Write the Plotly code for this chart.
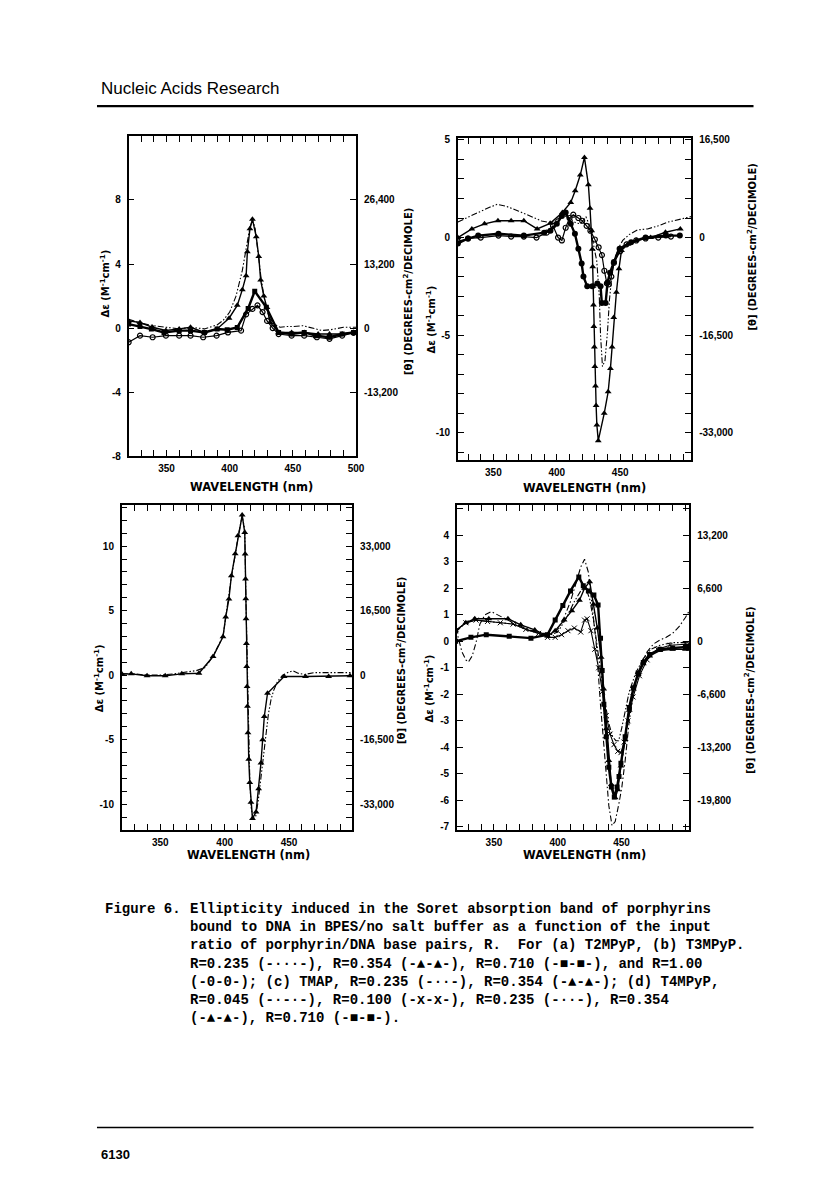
import math
import plotly.graph_objects as go

# ---------------- data ----------------
# (a) T2MPyP
a_wl_235 = [320, 325, 330, 340, 350, 360, 370, 380, 390, 395, 400, 405, 410, 413, 416, 418, 420, 422, 425, 428, 431, 435, 440, 445, 450, 458, 465, 473, 480, 490, 500]
a_de_235 = [0.55, 0.4, 0.3, 0.15, 0.05, -0.05, 0.05, -0.05, 0.2, 0.5, 1.0, 2.0, 3.6, 5.0, 6.3, 6.7, 6.3, 5.0, 3.0, 1.6, 0.7, 0.25, 0.05, 0.1, 0.1, 0.15, 0.0, -0.15, -0.1, 0.05, 0.05]
a_wl_354 = [320, 329, 339, 349.5, 360, 369, 380, 390, 399.5, 406, 410, 413, 414, 416, 418, 421, 423, 424.5, 427, 429.5, 432, 439, 449, 459, 470, 479, 489, 498]
a_de_354 = [0.45, 0.35, 0.05, -0.15, -0.05, 0.05, -0.27, -0.05, 0.62, 1.42, 2.4, 3.27, 4.77, 6.2, 6.8, 5.7, 4.47, 3.0, 2.0, 1.28, 0.35, -0.27, -0.27, -0.27, -0.37, -0.37, -0.37, -0.27]
a_wl_710 = [320, 329, 338, 348, 360, 369, 380, 390, 398, 406, 414.6, 419.8, 429, 438.7, 449, 459, 468, 479, 489, 498]
a_de_710 = [0.25, 0.1, -0.06, -0.27, -0.16, -0.16, -0.27, -0.06, -0.1, 0.04, 1.23, 2.3, 1.3, -0.27, -0.37, -0.27, -0.47, -0.57, -0.37, -0.27]
a_wl_100 = [320, 329, 339, 349.5, 360, 369, 379, 389.6, 398.6, 409, 413, 418, 422, 426, 429.6, 434, 438.7, 449, 459, 469, 479, 489, 498]
a_de_100 = [-0.88, -0.47, -0.57, -0.47, -0.47, -0.47, -0.57, -0.47, -0.27, -0.16, 0.86, 1.2, 1.42, 1.0, 0.45, 0.0, -0.37, -0.47, -0.47, -0.57, -0.67, -0.47, -0.3]

# (b) T3MPyP
b_wl_235 = [322, 330, 340, 347, 353, 360, 370, 380, 388, 396, 401, 405, 410, 415, 418.5, 423, 426, 429, 431.5, 433.5, 434.5, 436, 438, 440, 441.5, 443.5, 446, 449, 452, 457, 463.7, 471.5, 480, 487, 495, 506]
b_de_235 = [0.8, 1.05, 1.35, 1.55, 1.7, 1.6, 1.35, 1.05, 0.85, 0.75, 0.95, 1.15, 1.0, 0.75, 0.7, 1.05, 0.6, -0.3, -1.2, -3.0, -5.0, -6.6, -6.3, -4.8, -3.2, -1.9, -1.0, -0.5, -0.15, 0.15, 0.39, 0.44, 0.6, 0.78, 0.9, 1.07]
b_wl_354 = [322, 333, 343, 353.6, 364, 374, 384.5, 394.8, 404.4, 411, 414.5, 418.5, 421.8, 424.9, 426.2, 427.5, 428, 428.3, 428.6, 428.9, 429.2, 429.6, 430, 430.5, 431, 431.6, 432.7, 437.4, 440.5, 442.3, 443.6, 444.9, 447, 449, 451, 456, 462.6, 474, 485.7, 497.4]
b_de_354 = [0.0, 0.44, 0.7, 0.86, 0.86, 0.86, 0.44, 0.73, 1.28, 1.8, 2.4, 3.2, 4.1, 2.7, 1.5, 0.35, -0.6, -1.5, -2.5, -3.45, -4.55, -5.6, -6.6, -7.6, -8.6, -9.6, -10.4, -9.0, -7.9, -6.7, -5.6, -4.1, -2.8, -1.6, -0.66, -0.35, -0.15, 0.0, 0.27, 0.44]
b_wl_710 = [322, 330, 338, 354, 374, 390, 395, 400, 404, 407, 411, 414.3, 417, 419.6, 421, 424, 428, 432, 434.5, 435.5, 438.5, 440, 442, 445, 449.5, 458.6, 470, 486, 497]
b_de_710 = [-0.3, -0.05, 0.1, 0.19, 0.1, 0.25, 0.35, 0.7, 1.1, 1.28, 0.7, 0.19, -0.57, -1.33, -2.0, -2.5, -2.5, -2.35, -2.5, -3.35, -3.35, -2.3, -1.8, -1.25, -0.57, -0.24, 0.0, 0.1, 0.1]
b_wl_100 = [322, 330, 340, 354, 364, 374, 384, 392, 397, 401, 404, 407, 410, 413, 417, 420, 423.5, 426.5, 430, 433, 435.6, 437.5, 439.5, 441, 443, 445, 450, 455, 462.6, 470, 480, 490]
b_de_100 = [-0.2, -0.05, 0.0, 0.1, 0.05, 0.05, 0.0, 0.25, 0.6, 0.0, -0.15, 0.5, 1.0, 1.17, 1.0, 0.86, 0.6, 0.35, -0.1, -0.5, -0.9, -1.7, -2.35, -2.4, -2.0, -1.3, -0.7, -0.35, -0.15, -0.05, 0.0, 0.05]

# (c) TMAP
c_wl_235 = [320, 330, 340, 350, 360, 370, 378, 385, 391, 398.7, 400.8, 403.3, 405.2, 408.2, 410.3, 413.6, 415.6, 416.5, 417.5, 418.5, 419.5, 420.5, 422, 424, 426, 428, 430, 432, 434, 436, 438, 441, 445, 449, 453, 457, 462, 470, 480, 490, 499]
c_de_235 = [0.1, 0.1, 0.0, 0.0, 0.1, 0.25, 0.35, 0.6, 1.5, 3.0, 4.5, 5.9, 7.6, 9.3, 10.7, 12.3, 11.3, 6.0, 0.5, -4.0, -8.0, -10.2, -11.1, -11.0, -9.8, -8.1, -6.4, -4.6, -3.0, -1.9, -1.2, -0.5, 0.0, 0.2, 0.35, 0.15, 0.05, 0.2, 0.2, 0.2, 0.2]
c_wl_354 = [320, 327.4, 339.7, 353.8, 366.7, 380, 391, 398.7, 400.8, 403.3, 405.2, 408.2, 410.3, 413.6, 415.6, 415.9, 416.2, 416.4, 416.6, 416.9, 417.1, 417.4, 417.7, 418.1, 418.7, 419.5, 420.4, 421.6, 424.4, 426.4, 428.2, 429.5, 430.8, 433.3, 446.2, 462.8, 480.8, 497.4]
c_de_354 = [0.1, 0.1, -0.05, -0.05, 0.1, 0.15, 1.44, 2.98, 4.5, 5.9, 7.7, 9.4, 10.8, 12.4, 11.05, 9.38, 7.46, 5.92, 4.38, 2.46, 0.67, -0.87, -2.41, -4.46, -6.51, -8.31, -9.85, -11.1, -10.6, -8.8, -6.8, -5.0, -3.2, -1.4, -0.1, -0.1, -0.1, -0.05]

# (d) T4MPyP
d_wl_045 = [320, 322, 325, 328, 330, 333, 336, 339, 343, 348, 353, 358, 365, 372, 380, 388, 395, 400, 405, 410, 415, 418, 421, 424, 427, 430, 433.5, 437.4, 440, 442.5, 445, 448, 450.2, 452.8, 456, 460, 465, 470, 475, 480, 485, 490, 495, 500, 503]
d_de_045 = [0.5, 0.15, -0.4, -0.7, -0.78, -0.55, -0.05, 0.65, 1.0, 1.12, 1.0, 0.85, 0.7, 0.55, 0.4, 0.3, 0.3, 0.45, 0.9, 1.5, 2.3, 2.8, 3.1, 2.6, 1.3, 0.0, -2.4, -4.9, -6.2, -6.95, -6.8, -6.1, -5.5, -4.5, -3.0, -1.8, -0.9, -0.4, -0.1, 0.05, 0.15, 0.3, 0.55, 0.9, 1.15]
d_wl_100 = [320, 328, 336, 345, 355, 365, 375, 385, 392, 398, 403, 408, 413, 418, 421, 423, 426, 429, 432, 435, 438, 441, 444, 447, 449.5, 452, 455, 459, 464, 470, 478, 488, 500, 503]
d_de_100 = [0.4, 0.7, 0.8, 0.75, 0.7, 0.65, 0.45, 0.3, 0.15, 0.15, 0.25, 0.4, 0.5, 0.35, 0.8, 0.85, 0.4, -0.3, -1.0, -1.9, -2.8, -3.5, -3.9, -4.15, -4.2, -3.8, -3.0, -2.1, -1.3, -0.7, -0.3, -0.15, -0.1, -0.1]
d_wl_235 = [320, 328, 336, 345, 355, 365, 375, 385, 392, 400, 407, 413, 418, 422, 425, 428, 431, 434, 437, 440, 443, 445.5, 447.7, 450, 453, 456, 461, 467, 473, 480, 490, 500, 503]
d_de_235 = [0.35, 0.7, 0.8, 0.75, 0.7, 0.65, 0.45, 0.3, 0.2, 0.35, 0.9, 1.5, 1.9, 2.0, 1.6, 0.8, -0.2, -1.2, -2.3, -3.1, -3.6, -3.75, -3.75, -3.3, -2.6, -1.9, -1.2, -0.65, -0.3, -0.15, -0.05, -0.05, -0.05]
d_wl_354 = [320, 328, 335, 346, 361, 371, 382, 392, 398, 405, 411, 417, 421, 425, 428, 431, 434, 436, 438, 440, 442, 445, 447, 449.5, 452.8, 456, 459.3, 463, 467, 472, 480, 490, 500, 503]
d_de_354 = [0.4, 0.7, 0.85, 0.85, 0.85, 0.62, 0.43, 0.2, 0.4, 0.8, 1.15, 1.55, 2.0, 2.25, 1.4, 0.5, -0.6, -1.8, -3.3, -4.5, -5.4, -5.9, -5.6, -4.7, -3.7, -2.6, -1.8, -1.25, -0.85, -0.55, -0.35, -0.3, -0.3, -0.3]
d_wl_710 = [320, 332, 344, 362, 379, 392, 398, 404, 410, 416.5, 420, 424, 428.3, 431.6, 433.5, 434.8, 436.1, 438, 440, 442, 444.3, 446.5, 448, 449.5, 452.8, 456, 459.3, 463, 467, 472, 480, 490, 500, 503]
d_de_710 = [0.0, 0.15, 0.25, 0.19, 0.12, 0.25, 0.8, 1.35, 1.9, 2.43, 2.1, 1.9, 1.75, 1.37, 0.12, -1.1, -2.37, -3.6, -4.75, -5.5, -5.87, -5.5, -5.1, -4.6, -3.6, -2.5, -1.75, -1.2, -0.8, -0.5, -0.3, -0.25, -0.2, -0.2]

# tick labels
a_x_labels = [350, 400, 450, 500]
bcd_x_labels = [350, 400, 450]
a_y_labels = [-8, -4, 0, 4, 8]
b_y_labels = [5, 0, -5, -10]
c_y_labels = [10, 5, 0, -5, -10]
d_y_labels = [4, 3, 2, 1, 0, -1, -2, -3, -4, -5, -6, -7]
a_theta_labels = [26400, 13200, 0, -13200]
b_theta_labels = [16500, 0, -16500, -33000]
c_theta_labels = [33000, 16500, 0, -16500, -33000]
d_theta_labels = [13200, 6600, 0, -6600, -13200, -19800]
THETA_PER_DE = 3300

caption_lines = [
    "Ellipticity induced in the Soret absorption band of porphyrins",
    "bound to DNA in BPES/no salt buffer as a function of the input",
    "ratio of porphyrin/DNA base pairs, R.  For (a) T2MPyP, (b) T3MPyP.",
    "R=0.235 (-\u00b7\u00b7\u00b7-), R=0.354 (-\u25b2-\u25b2-), R=0.710 (-\u25a0-\u25a0-), and R=1.00",
    "(-0-0-); (c) TMAP, R=0.235 (-\u00b7\u00b7-), R=0.354 (-\u25b2-\u25b2-); (d) T4MPyP,",
    "R=0.045 (-\u00b7-\u00b7-), R=0.100 (-x-x-), R=0.235 (-\u00b7\u00b7-), R=0.354",
    "(-\u25b2-\u25b2-), R=0.710 (-\u25a0-\u25a0-).",
]

# ---------------- page geometry (page pixels) ----------------
W, H, OFF = 800, 1184, 8   # body margin of the html page


def fx(x):
    return (x - OFF) / W


def fy(y):
    return 1 - (y - OFF) / H


TICKFONT = dict(family="Liberation Sans", size=10, color="black", weight="bold")
TITLEFONT = dict(family="DejaVu Sans", size=10, color="black", weight="bold")
XT = dict(family="DejaVu Sans", size=11.5, color="black", weight="bold")
DASH2 = "6px,2px,1.5px,2px,1.5px,2px"
DASH1 = "6px,2.5px,1.5px,2.5px"
TICKSTYLE = dict(ticks="inside", ticklen=6, tickwidth=1.2, tickcolor="black")

panels = [
    # box (x0, x1, y0, y1) in page px, x range, y range, y tick step
    dict(box=(130, 360, 133, 456), xr=[320, 500], yr=[-8, 12], ystep=4,
         xl=a_x_labels, yl=a_y_labels, tl=a_theta_labels),
    dict(box=(463, 699, 135, 460), xr=[322, 506], yr=[-11.4, 5.1], ystep=1,
         xl=bcd_x_labels, yl=b_y_labels, tl=b_theta_labels),
    dict(box=(123, 356, 505, 833), xr=[320, 499], yr=[-12, 13.2], ystep=1,
         xl=bcd_x_labels, yl=c_y_labels, tl=c_theta_labels),
    dict(box=(462, 697, 505, 833), xr=[321, 503], yr=[-7.12, 5.15], ystep=1,
         xl=bcd_x_labels, yl=d_y_labels, tl=d_theta_labels),
]

fig = go.Figure()
layout = {}
for i, p in enumerate(panels, start=1):
    x0, x1, y0, y1 = p["box"]
    sfx = "" if i == 1 else str(i)
    xt = list(range(330, int(p["xr"][1]) + 1, 10))
    ylo, yhi = p["yr"]
    yt = [v for v in range(math.ceil(ylo), math.floor(yhi) + 1) if v % p["ystep"] == 0]
    layout["xaxis" + sfx] = dict(
        domain=[fx(x0), fx(x1)], range=p["xr"], anchor="y" + sfx,
        tickvals=p["xl"], ticktext=[str(v) for v in p["xl"]],
        minor=dict(tickvals=[v for v in xt if v not in p["xl"]], **TICKSTYLE),
        ticklabelstandoff=2, **TICKSTYLE,
        showline=True, linecolor="black", linewidth=1.5, mirror="ticks",
        showgrid=False, zeroline=False, tickfont=TICKFONT, fixedrange=True)
    layout["yaxis" + sfx] = dict(
        domain=[fy(y1), fy(y0)], range=p["yr"], anchor="x" + sfx,
        tickvals=p["yl"], ticktext=[str(v) for v in p["yl"]],
        minor=dict(tickvals=[v for v in yt if v not in p["yl"]], **TICKSTYLE),
        ticklabelstandoff=4, **TICKSTYLE,
        showline=True, linecolor="black", linewidth=1.5, mirror="ticks",
        showgrid=False, zeroline=False, tickfont=TICKFONT, fixedrange=True)
    layout["yaxis" + str(i + 4)] = dict(
        overlaying="y" + sfx, side="right", anchor="x" + sfx,
        range=[ylo * THETA_PER_DE, yhi * THETA_PER_DE],
        tickvals=p["tl"], ticktext=[f"{v:,}" for v in p["tl"]],
        ticks="", ticklabelstandoff=7, showline=False, showgrid=False,
        zeroline=False, tickfont=TICKFONT, fixedrange=True)
    # empty trace so that the right-hand [theta] axis is drawn
    fig.add_trace(go.Scatter(x=[None], y=[None], xaxis="x" + sfx,
                             yaxis="y" + str(i + 4), mode="lines",
                             hoverinfo="skip"))


def add(wl, de, panel, kind):
    sfx = "" if panel == 1 else str(panel)
    style = dict(mode="lines", line=dict(color="black", width=1.1))
    if kind == "dashdotdot":
        style["line"]["dash"] = DASH2
    elif kind == "dashdot":
        style["line"]["dash"] = DASH1
    elif kind == "tri":
        style = dict(mode="lines+markers", line=dict(color="black", width=1.4),
                     marker=dict(symbol="triangle-up", size=6, color="black"))
    elif kind == "sq":
        style = dict(mode="lines+markers", line=dict(color="black", width=2.4),
                     marker=dict(symbol="square", size=5, color="black"))
    elif kind == "dot":
        style = dict(mode="lines+markers", line=dict(color="black", width=2.4),
                     marker=dict(symbol="circle", size=6, color="black"))
    elif kind == "open":
        style = dict(mode="lines+markers", line=dict(color="black", width=1.2),
                     marker=dict(symbol="circle-open", size=5, color="black",
                                 line=dict(width=1.2, color="black")))
    elif kind == "x":
        style = dict(mode="lines+markers", line=dict(color="black", width=1.1),
                     marker=dict(symbol="x-thin-open", size=5, color="black",
                                 line=dict(width=1, color="black")))
    fig.add_trace(go.Scatter(x=wl, y=de, xaxis="x" + sfx, yaxis="y" + sfx,
                             hoverinfo="skip", **style))


add(a_wl_100, a_de_100, 1, "open")
add(a_wl_710, a_de_710, 1, "sq")
add(a_wl_235, a_de_235, 1, "dashdotdot")
add(a_wl_354, a_de_354, 1, "tri")

add(b_wl_100, b_de_100, 2, "open")
add(b_wl_710, b_de_710, 2, "dot")
add(b_wl_235, b_de_235, 2, "dashdotdot")
add(b_wl_354, b_de_354, 2, "tri")

add(c_wl_235, c_de_235, 3, "dashdotdot")
add(c_wl_354, c_de_354, 3, "tri")

add(d_wl_045, d_de_045, 4, "dashdot")
add(d_wl_100, d_de_100, 4, "x")
add(d_wl_235, d_de_235, 4, "dashdotdot")
add(d_wl_354, d_de_354, 4, "tri")
add(d_wl_710, d_de_710, 4, "sq")

annotations = []


def text(x, y, s, font, xanchor="center", yanchor="middle", angle=0, align="center"):
    annotations.append(dict(x=fx(x), y=fy(y), xref="paper", yref="paper", text=s,
                            showarrow=False, font=font, xanchor=xanchor,
                            yanchor=yanchor, textangle=angle, align=align))


de_title = "\u0394\u03b5 (M<sup>-1</sup>cm<sup>-1</sup>)"
th_title = "[\u03b8] (DEGREES-cm<sup>2</sup>/DECIMOLE)"
wl_title = "WAVELENGTH (nm)"

for (lx, ly), (rx, ry), (wx, wy) in [
        ((106, 282), (412, 290), (254, 487)),
        ((436, 318), (760, 245), (591, 488)),
        ((100, 680), (406, 662), (251, 858)),
        ((434, 690), (758, 692), (591, 858))]:
    text(lx, ly, de_title, TITLEFONT, angle=-90)
    text(rx, ry, th_title, TITLEFONT, angle=-90)
    text(wx, wy, wl_title, XT)

# header / caption / footer
text(100, 85, "Nucleic Acids Research",
     dict(family="Liberation Sans", size=17, color="black"), xanchor="left")
CAP = dict(family="Liberation Mono", size=14, color="black", weight="bold")
text(104, 903, "Figure 6.", CAP, xanchor="left", yanchor="top")
text(190, 903, "<br>".join(caption_lines), CAP, xanchor="left", yanchor="top", align="left")
text(100, 1160, "6130", dict(family="Liberation Sans", size=13, color="black", weight="bold"),
     xanchor="left")

shapes = [
    dict(type="line", xref="paper", yref="paper", x0=fx(98), x1=fx(762), y0=fy(103), y1=fy(103),
         line=dict(color="black", width=2.2)),
    dict(type="line", xref="paper", yref="paper", x0=fx(98), x1=fx(762), y0=fy(1133), y1=fy(1133),
         line=dict(color="black", width=1.5)),
]

fig.update_layout(width=W, height=H, margin=dict(l=0, r=0, t=0, b=0),
                  paper_bgcolor="white", plot_bgcolor="white", showlegend=False,
                  annotations=annotations, shapes=shapes, **layout)

fig.write_html("out.html")
